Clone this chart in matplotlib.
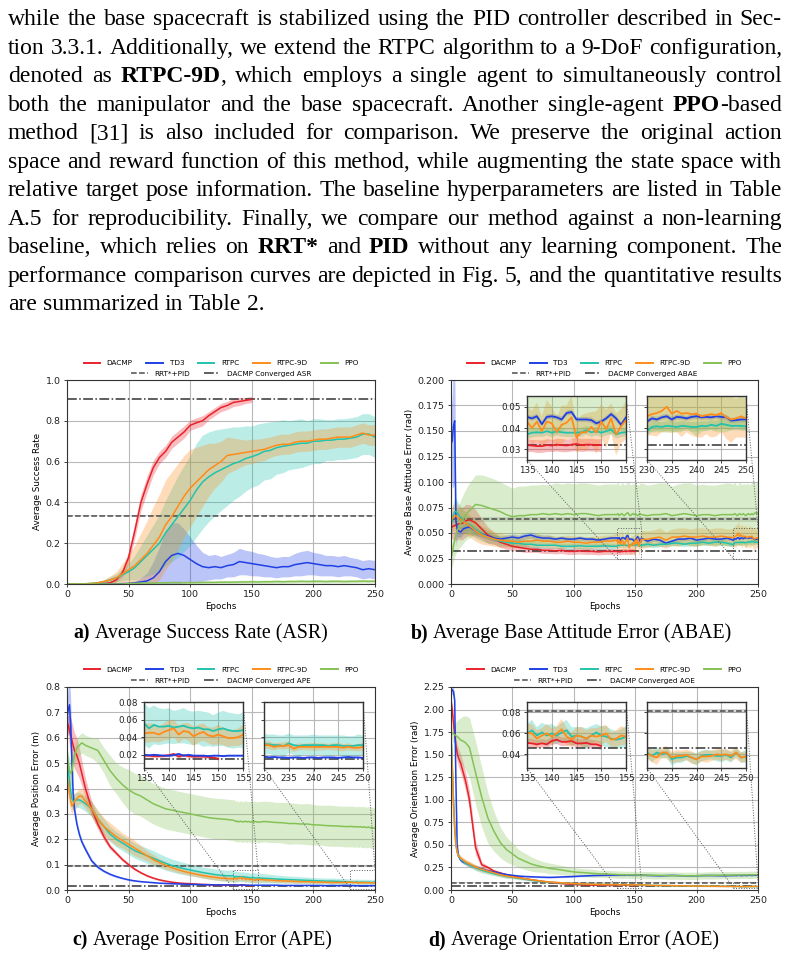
import numpy as np
import matplotlib
matplotlib.use("Agg")
import matplotlib.pyplot as plt
from matplotlib.lines import Line2D
from mpl_toolkits.axes_grid1.inset_locator import mark_inset

W, H = 790, 956

# ---------------- data ----------------
methods = ["DACMP", "TD3", "RTPC", "RTPC-9D", "PPO"]
colors = ["#e8212b", "#2040e6", "#22c3ad", "#ff8c1a", "#84c256"]

# Panel a: epochs every 5
ep_a = list(range(0, 251, 5))
a_dacmp = [0, 0, 0, 0, 0, 0.001, 0.002, 0.006, 0.02, 0.055, 0.13, 0.26, 0.40, 0.49, 0.57, 0.62, 0.65, 0.695,
           0.72, 0.745, 0.778, 0.79, 0.80, 0.825, 0.845, 0.865, 0.875, 0.89, 0.895, 0.90, 0.905]
a_dacmp_sd = [0, 0, 0, 0, 0, 0.001, 0.002, 0.005, 0.01, 0.02, 0.03, 0.035, 0.04, 0.04, 0.035, 0.03, 0.03, 0.03,
              0.03, 0.03, 0.025, 0.025, 0.025, 0.02, 0.02, 0.02, 0.02, 0.02, 0.02, 0.015, 0.015]
a_td3 = [0, 0, 0, 0, 0, 0, 0, 0, 0.001, 0.002, 0.003, 0.005, 0.01, 0.015, 0.03, 0.06, 0.11, 0.14, 0.15, 0.14,
         0.12, 0.10, 0.085, 0.08, 0.085, 0.08, 0.09, 0.095, 0.11, 0.105, 0.10, 0.095, 0.09, 0.085, 0.08, 0.085,
         0.085, 0.095, 0.10, 0.105, 0.10, 0.095, 0.09, 0.09, 0.085, 0.09, 0.085, 0.08, 0.07, 0.075, 0.07]
a_td3_sd = [0, 0, 0, 0, 0, 0, 0, 0, 0.001, 0.002, 0.005, 0.01, 0.02, 0.04, 0.08, 0.12, 0.15, 0.16, 0.15, 0.13,
            0.11, 0.09, 0.07, 0.06, 0.06, 0.055, 0.055, 0.06, 0.065, 0.06, 0.06, 0.055, 0.055, 0.05, 0.05, 0.05,
            0.05, 0.055, 0.06, 0.06, 0.055, 0.055, 0.05, 0.05, 0.05, 0.05, 0.045, 0.045, 0.045, 0.045, 0.045]
a_rtpc = [0, 0, 0, 0.001, 0.003, 0.006, 0.01, 0.02, 0.03, 0.045, 0.06, 0.08, 0.11, 0.14, 0.17, 0.20, 0.25, 0.29,
          0.33, 0.37, 0.41, 0.46, 0.50, 0.525, 0.545, 0.56, 0.575, 0.59, 0.60, 0.615, 0.624, 0.635, 0.65, 0.655,
          0.668, 0.675, 0.68, 0.685, 0.69, 0.69, 0.70, 0.70, 0.705, 0.705, 0.71, 0.71, 0.715, 0.72, 0.735, 0.735, 0.72]
a_rtpc_sd = [0, 0, 0, 0.001, 0.003, 0.006, 0.01, 0.015, 0.02, 0.03, 0.04, 0.06, 0.08, 0.10, 0.12, 0.14, 0.16, 0.18,
             0.20, 0.21, 0.22, 0.23, 0.23, 0.22, 0.21, 0.20, 0.19, 0.18, 0.17, 0.16, 0.15, 0.15, 0.14, 0.14, 0.13,
             0.13, 0.12, 0.12, 0.12, 0.11, 0.11, 0.11, 0.10, 0.10, 0.10, 0.10, 0.10, 0.10, 0.10, 0.10, 0.10]
a_rtpc9d = [0, 0, 0, 0.001, 0.003, 0.006, 0.012, 0.02, 0.03, 0.05, 0.07, 0.09, 0.12, 0.15, 0.19, 0.23, 0.29, 0.33,
            0.38, 0.43, 0.47, 0.50, 0.53, 0.56, 0.58, 0.60, 0.63, 0.635, 0.64, 0.645, 0.65, 0.655, 0.66, 0.67,
            0.68, 0.685, 0.685, 0.695, 0.70, 0.70, 0.705, 0.71, 0.71, 0.715, 0.72, 0.72, 0.72, 0.73, 0.74, 0.73, 0.73]
a_rtpc9d_sd = [0, 0, 0, 0.001, 0.003, 0.006, 0.01, 0.02, 0.03, 0.05, 0.07, 0.10, 0.13, 0.16, 0.19, 0.21, 0.22,
               0.22, 0.21, 0.20, 0.19, 0.17, 0.15, 0.13, 0.11, 0.10, 0.09, 0.08, 0.07, 0.06, 0.06, 0.055, 0.055,
               0.05, 0.05, 0.05, 0.05, 0.05, 0.05, 0.05, 0.05, 0.05, 0.05, 0.05, 0.05, 0.05, 0.05, 0.05, 0.05, 0.05, 0.05]
a_ppo = [0, 0, 0, 0, 0, 0, 0, 0, 0, 0, 0.002, 0.003, 0.004, 0.005, 0.005, 0.006, 0.006, 0.007, 0.007, 0.006,
         0.007, 0.007, 0.008, 0.008, 0.008, 0.009, 0.009, 0.009, 0.010, 0.010, 0.011, 0.010, 0.011, 0.011, 0.012,
         0.011, 0.012, 0.012, 0.013, 0.012, 0.013, 0.013, 0.012, 0.013, 0.013, 0.012, 0.013, 0.013, 0.014, 0.013, 0.014]
a_ppo_sd = [0, 0, 0, 0, 0, 0, 0, 0, 0, 0, 0.002, 0.003, 0.004, 0.004, 0.005, 0.005, 0.005, 0.006, 0.006, 0.006,
            0.006, 0.006, 0.007, 0.007, 0.007, 0.007, 0.007, 0.007, 0.008, 0.008, 0.008, 0.008, 0.008, 0.008, 0.008,
            0.008, 0.008, 0.008, 0.008, 0.008, 0.008, 0.008, 0.008, 0.008, 0.008, 0.008, 0.008, 0.008, 0.008, 0.008, 0.008]

# Panels b-d: dense sampling around inset windows
ep_d = ([0, 1, 2, 3, 4, 5, 6, 8, 10, 12] + list(range(15, 131, 5)) + list(range(135, 156))
        + list(range(160, 226, 5)) + list(range(230, 251)))

# ---- b: ABAE ----
b_dacmp = [0.055, 0.056, 0.057, 0.057, 0.058, 0.058, 0.059, 0.059, 0.060, 0.062,
           0.063, 0.060, 0.054, 0.048, 0.045, 0.041, 0.039, 0.037, 0.036, 0.035, 0.034, 0.034, 0.033, 0.033,
           0.0325, 0.033, 0.032, 0.032, 0.0325, 0.032, 0.032, 0.0315, 0.032, 0.032,
           0.032, 0.0318, 0.0315, 0.0315, 0.032, 0.0318, 0.0322, 0.032, 0.0318, 0.0322, 0.0325, 0.032, 0.0322,
           0.0322, 0.032, 0.032]
b_dacmp_sd = [0.010, 0.012, 0.013, 0.014, 0.015, 0.015, 0.015, 0.016, 0.016, 0.016,
              0.015, 0.013, 0.010, 0.008, 0.006, 0.005, 0.005, 0.004, 0.004, 0.004, 0.003, 0.003, 0.003, 0.003,
              0.003, 0.003, 0.003, 0.003, 0.003, 0.003, 0.003, 0.003, 0.003, 0.003,
              0.003, 0.0028, 0.003, 0.0029, 0.003, 0.0028, 0.003, 0.0031, 0.0029, 0.003, 0.0031, 0.003, 0.0029,
              0.003, 0.0029, 0.003]
b_td3 = [0.138, 0.140, 0.155, 0.160, 0.062, 0.054, 0.052, 0.051, 0.054, 0.055,
         0.056, 0.052, 0.049, 0.047, 0.045, 0.044, 0.045, 0.046, 0.045, 0.047, 0.048, 0.046, 0.045, 0.045, 0.044,
         0.045, 0.044, 0.044, 0.045, 0.044, 0.044, 0.043, 0.044, 0.045,
         0.0452, 0.0445, 0.0455, 0.0418, 0.0452, 0.0455, 0.045, 0.044, 0.047, 0.0475, 0.044, 0.044, 0.044,
         0.0437, 0.0422, 0.043, 0.0445, 0.0465, 0.0445, 0.0415, 0.045,
         0.042, 0.044, 0.043, 0.040, 0.042, 0.044, 0.044, 0.045, 0.043, 0.044, 0.045, 0.044, 0.044, 0.045,
         0.043, 0.0445, 0.044, 0.045, 0.0455, 0.044, 0.0452, 0.045, 0.0445, 0.0452, 0.0455, 0.045, 0.0452,
         0.045, 0.0455, 0.0452, 0.045, 0.0435, 0.0437, 0.044, 0.044]
b_td3_sd = [0.030, 0.045, 0.060, 0.060, 0.025, 0.008, 0.006, 0.005, 0.005, 0.005,
            0.004, 0.004, 0.003, 0.003, 0.003, 0.003, 0.003, 0.003, 0.003, 0.003, 0.003, 0.003, 0.003, 0.003,
            0.002, 0.002, 0.002, 0.002, 0.002, 0.002, 0.002, 0.002, 0.002, 0.002,
            0.0012, 0.0011, 0.0013, 0.0012, 0.0012, 0.0011, 0.0012, 0.0013, 0.0012, 0.0012, 0.0011, 0.0012,
            0.0012, 0.0013, 0.0012, 0.0011, 0.0012, 0.0012, 0.0013, 0.0012, 0.0012,
            0.002, 0.002, 0.0018, 0.002, 0.0019, 0.002, 0.0018, 0.002, 0.002, 0.0019, 0.002, 0.0018, 0.002, 0.0019,
            0.0012, 0.0013, 0.0012, 0.0011, 0.0012, 0.0013, 0.0012, 0.0012, 0.0011, 0.0012, 0.0013, 0.0012,
            0.0012, 0.0011, 0.0012, 0.0013, 0.0012, 0.0012, 0.0011, 0.0012, 0.0012]
b_rtpc = [0.058, 0.062, 0.068, 0.071, 0.071, 0.070, 0.068, 0.065, 0.062, 0.060,
          0.058, 0.053, 0.049, 0.046, 0.044, 0.042, 0.041, 0.040, 0.040, 0.039, 0.039, 0.038, 0.038, 0.038,
          0.038, 0.037, 0.037, 0.037, 0.0375, 0.037, 0.037, 0.037, 0.0375, 0.037,
          0.037, 0.0378, 0.038, 0.0378, 0.0385, 0.0378, 0.0385, 0.038, 0.0378, 0.0378, 0.0378, 0.038, 0.039,
          0.038, 0.0385, 0.0378, 0.0385, 0.0393, 0.037, 0.0378, 0.038,
          0.039, 0.038, 0.039, 0.039, 0.040, 0.040, 0.039, 0.040, 0.040, 0.041, 0.040, 0.041, 0.041, 0.040,
          0.0385, 0.0405, 0.0408, 0.0405, 0.041, 0.0408, 0.0405, 0.041, 0.0408, 0.0405, 0.0405, 0.041, 0.0408,
          0.0415, 0.041, 0.042, 0.0415, 0.041, 0.041, 0.041, 0.0408]
b_rtpc_sd = [0.010, 0.012, 0.012, 0.013, 0.013, 0.012, 0.012, 0.011, 0.010, 0.010,
             0.009, 0.008, 0.007, 0.006, 0.005, 0.005, 0.004, 0.004, 0.004, 0.004, 0.004, 0.004, 0.003, 0.003,
             0.003, 0.003, 0.003, 0.003, 0.003, 0.003, 0.003, 0.003, 0.003, 0.003,
             0.002, 0.0022, 0.002, 0.0021, 0.002, 0.0022, 0.002, 0.0021, 0.002, 0.0022, 0.002, 0.0021, 0.002,
             0.0022, 0.002, 0.0021, 0.002, 0.0022, 0.002, 0.0021, 0.002,
             0.0025, 0.0025, 0.0024, 0.0025, 0.0026, 0.0025, 0.0024, 0.0025, 0.0025, 0.0026, 0.0025, 0.0024,
             0.0025, 0.0025,
             0.0022, 0.0023, 0.0022, 0.0021, 0.0022, 0.0023, 0.0022, 0.0022, 0.0021, 0.0022, 0.0023, 0.0022,
             0.0022, 0.0021, 0.0022, 0.0023, 0.0022, 0.0022, 0.0021, 0.0022, 0.0022]
b_rtpc9d = [0.062, 0.064, 0.066, 0.067, 0.067, 0.066, 0.065, 0.063, 0.061, 0.060,
            0.057, 0.052, 0.048, 0.046, 0.044, 0.043, 0.042, 0.042, 0.041, 0.042, 0.042, 0.043, 0.042, 0.042,
            0.041, 0.041, 0.042, 0.041, 0.041, 0.040, 0.041, 0.041, 0.042, 0.042,
            0.043, 0.040, 0.043, 0.0385, 0.043, 0.0422, 0.038, 0.0415, 0.0425, 0.045, 0.0355, 0.038, 0.038,
            0.0405, 0.0378, 0.043, 0.0395, 0.0445, 0.037, 0.0408, 0.0437,
            0.044, 0.045, 0.046, 0.043, 0.046, 0.046, 0.047, 0.046, 0.046, 0.047, 0.046, 0.046, 0.047, 0.046,
            0.0455, 0.0465, 0.047, 0.048, 0.050, 0.0467, 0.048, 0.0467, 0.047, 0.0465, 0.0467, 0.0455, 0.046,
            0.0465, 0.046, 0.047, 0.045, 0.044, 0.0445, 0.0455, 0.0445]
b_rtpc9d_sd = [0.012, 0.012, 0.013, 0.013, 0.013, 0.013, 0.012, 0.012, 0.012, 0.011,
               0.011, 0.010, 0.009, 0.008, 0.007, 0.007, 0.006, 0.006, 0.006, 0.006, 0.006, 0.006, 0.006, 0.006,
               0.006, 0.006, 0.006, 0.006, 0.006, 0.006, 0.006, 0.006, 0.006, 0.006,
               0.007, 0.008, 0.009, 0.007, 0.010, 0.008, 0.007, 0.009, 0.008, 0.010, 0.007, 0.008, 0.009, 0.007,
               0.010, 0.008, 0.009, 0.007, 0.010, 0.008, 0.009,
               0.008, 0.008, 0.009, 0.008, 0.008, 0.009, 0.008, 0.008, 0.009, 0.008, 0.008, 0.009, 0.008, 0.008,
               0.009, 0.010, 0.011, 0.010, 0.012, 0.009, 0.010, 0.011, 0.009, 0.010, 0.011, 0.010, 0.009, 0.011,
               0.010, 0.009, 0.010, 0.011, 0.009, 0.010, 0.009]
b_ppo = [0.025, 0.030, 0.037, 0.043, 0.048, 0.052, 0.055, 0.060, 0.064, 0.068,
         0.072, 0.078, 0.077, 0.075, 0.073, 0.071, 0.068, 0.066, 0.067, 0.067, 0.068, 0.068, 0.069, 0.068,
         0.069, 0.068, 0.069, 0.068, 0.069, 0.069, 0.068, 0.067, 0.068, 0.068,
         0.068, 0.069, 0.067, 0.068, 0.069, 0.068, 0.067, 0.068, 0.069, 0.070, 0.068, 0.067, 0.068, 0.069,
         0.068, 0.069, 0.068, 0.067, 0.068, 0.069, 0.068,
         0.067, 0.068, 0.068, 0.069, 0.067, 0.068, 0.069, 0.068, 0.067, 0.068, 0.068, 0.067, 0.068, 0.068,
         0.068, 0.069, 0.068, 0.067, 0.068, 0.069, 0.068, 0.068, 0.069, 0.068, 0.067, 0.068, 0.069, 0.068,
         0.068, 0.069, 0.068, 0.069, 0.070, 0.069, 0.070]
b_ppo_sd = [0.010, 0.012, 0.014, 0.016, 0.018, 0.020, 0.021, 0.023, 0.024, 0.025,
            0.027, 0.029, 0.030, 0.030, 0.030, 0.029, 0.029, 0.028, 0.029, 0.029, 0.029, 0.029, 0.029, 0.029,
            0.030, 0.030, 0.030, 0.030, 0.030, 0.030, 0.030, 0.030, 0.030, 0.030,
            0.030, 0.031, 0.030, 0.029, 0.030, 0.031, 0.030, 0.030, 0.029, 0.030, 0.031, 0.030, 0.030, 0.029,
            0.030, 0.031, 0.030, 0.030, 0.029, 0.030, 0.031,
            0.030, 0.030, 0.031, 0.030, 0.029, 0.030, 0.030, 0.031, 0.030, 0.030, 0.029, 0.030, 0.030, 0.031,
            0.030, 0.031, 0.030, 0.029, 0.030, 0.031, 0.030, 0.030, 0.029, 0.030, 0.031, 0.030, 0.030, 0.029,
            0.030, 0.031, 0.030, 0.030, 0.029, 0.030, 0.031]

# ---- c: APE ----
c_dacmp = [0.66, 0.65, 0.63, 0.61, 0.59, 0.57, 0.55, 0.53, 0.50, 0.46,
           0.40, 0.32, 0.26, 0.21, 0.17, 0.145, 0.12, 0.10, 0.082, 0.068, 0.056, 0.047, 0.040, 0.035, 0.031,
           0.028, 0.026, 0.025, 0.023, 0.022, 0.021, 0.020, 0.0195, 0.019,
           0.019, 0.019, 0.0185, 0.0185, 0.019, 0.0195, 0.021, 0.018, 0.0195, 0.0185, 0.018, 0.018, 0.018,
           0.0175, 0.017, 0.0155]
c_dacmp_sd = [0.02, 0.04, 0.06, 0.07, 0.07, 0.07, 0.07, 0.07, 0.06, 0.05,
              0.04, 0.03, 0.02, 0.015, 0.010, 0.008, 0.007, 0.006, 0.005, 0.004, 0.004, 0.003, 0.003, 0.003,
              0.002, 0.002, 0.002, 0.002, 0.002, 0.002, 0.002, 0.002, 0.002, 0.002,
              0.0015, 0.0014, 0.0015, 0.0016, 0.0015, 0.0014, 0.0016, 0.0015, 0.0014, 0.0015, 0.0016, 0.0015,
              0.0014, 0.0015, 0.0015, 0.0014]
c_td3 = [0.68, 0.71, 0.73, 0.65, 0.50, 0.38, 0.32, 0.26, 0.22, 0.19,
         0.16, 0.115, 0.090, 0.074, 0.062, 0.053, 0.046, 0.040, 0.036, 0.033, 0.031, 0.029, 0.027, 0.026,
         0.025, 0.024, 0.023, 0.022, 0.022, 0.021, 0.021, 0.020, 0.020, 0.020,
         0.020, 0.0195, 0.020, 0.0195, 0.019, 0.019, 0.0195, 0.021, 0.019, 0.020, 0.019, 0.019, 0.019,
         0.0185, 0.019, 0.019, 0.0185, 0.019, 0.019, 0.019, 0.019,
         0.019, 0.019, 0.019, 0.018, 0.018, 0.018, 0.018, 0.018, 0.018, 0.018, 0.017, 0.018, 0.017, 0.018,
         0.018, 0.017, 0.0175, 0.017, 0.017, 0.0165, 0.017, 0.017, 0.0165, 0.017, 0.017, 0.0165, 0.017,
         0.017, 0.017, 0.0165, 0.017, 0.0175, 0.017, 0.017, 0.0165]
c_td3_sd = [0.05, 0.10, 0.12, 0.10, 0.06, 0.03, 0.02, 0.015, 0.012, 0.010,
            0.010, 0.008, 0.006, 0.005, 0.004, 0.004, 0.003, 0.003, 0.003, 0.002, 0.002, 0.002, 0.002, 0.002,
            0.002, 0.002, 0.002, 0.002, 0.002, 0.002, 0.002, 0.002, 0.002, 0.002,
            0.001, 0.0011, 0.001, 0.0009, 0.001, 0.0011, 0.001, 0.0012, 0.001, 0.0009, 0.001, 0.0011, 0.001,
            0.001, 0.0009, 0.001, 0.0011, 0.001, 0.001, 0.0009, 0.001,
            0.001, 0.001, 0.0011, 0.001, 0.0009, 0.001, 0.001, 0.0011, 0.001, 0.0009, 0.001, 0.001, 0.0011, 0.001,
            0.001, 0.0011, 0.001, 0.0009, 0.001, 0.0011, 0.001, 0.001, 0.0009, 0.001, 0.0011, 0.001, 0.001,
            0.0009, 0.001, 0.0011, 0.001, 0.001, 0.0009, 0.001, 0.0011]
c_rtpc = [0.55, 0.48, 0.43, 0.39, 0.36, 0.35, 0.35, 0.355, 0.355, 0.35,
          0.34, 0.32, 0.28, 0.25, 0.22, 0.20, 0.185, 0.17, 0.155, 0.145, 0.135, 0.125, 0.115, 0.105, 0.097,
          0.090, 0.084, 0.079, 0.074, 0.069, 0.065, 0.061, 0.058, 0.056,
          0.056, 0.050, 0.054, 0.052, 0.052, 0.053, 0.051, 0.052, 0.053, 0.051, 0.050, 0.051, 0.049, 0.049,
          0.047, 0.049, 0.050, 0.048, 0.047, 0.047, 0.048,
          0.046, 0.045, 0.043, 0.042, 0.041, 0.040, 0.039, 0.038, 0.037, 0.036, 0.035, 0.035, 0.034, 0.033,
          0.032, 0.032, 0.031, 0.031, 0.030, 0.033, 0.031, 0.030, 0.031, 0.031, 0.031, 0.031, 0.031, 0.030,
          0.031, 0.031, 0.030, 0.030, 0.030, 0.031, 0.031]
c_rtpc_sd = [0.02, 0.04, 0.05, 0.05, 0.04, 0.035, 0.03, 0.03, 0.03, 0.03,
             0.03, 0.03, 0.03, 0.03, 0.03, 0.03, 0.03, 0.03, 0.03, 0.03, 0.03, 0.03, 0.028, 0.027, 0.026,
             0.025, 0.024, 0.023, 0.022, 0.022, 0.022, 0.022, 0.022, 0.022,
             0.024, 0.023, 0.022, 0.021, 0.020, 0.020, 0.019, 0.019, 0.020, 0.019, 0.019, 0.019, 0.020, 0.019,
             0.018, 0.019, 0.020, 0.020, 0.020, 0.019, 0.020,
             0.018, 0.017, 0.016, 0.015, 0.014, 0.014, 0.013, 0.013, 0.012, 0.012, 0.012, 0.012, 0.012, 0.012,
             0.012, 0.011, 0.012, 0.011, 0.012, 0.011, 0.011, 0.012, 0.011, 0.011, 0.012, 0.011, 0.011, 0.012,
             0.011, 0.011, 0.012, 0.011, 0.011, 0.012, 0.011]
c_rtpc9d = [0.45, 0.42, 0.38, 0.35, 0.33, 0.34, 0.35, 0.36, 0.37, 0.37,
            0.35, 0.32, 0.28, 0.25, 0.23, 0.21, 0.195, 0.18, 0.165, 0.15, 0.135, 0.12, 0.108, 0.097, 0.088,
            0.080, 0.073, 0.067, 0.062, 0.057, 0.053, 0.050, 0.047, 0.045,
            0.0443, 0.045, 0.045, 0.043, 0.046, 0.048, 0.050, 0.043, 0.047, 0.046, 0.041, 0.044, 0.046, 0.042,
            0.041, 0.043, 0.041, 0.039, 0.039, 0.040, 0.043,
            0.040, 0.039, 0.037, 0.036, 0.035, 0.034, 0.033, 0.033, 0.032, 0.031, 0.031, 0.030, 0.030, 0.030,
            0.031, 0.031, 0.029, 0.030, 0.030, 0.031, 0.027, 0.029, 0.029, 0.029, 0.029, 0.029, 0.029, 0.029,
            0.029, 0.029, 0.028, 0.029, 0.028, 0.028, 0.029]
c_rtpc9d_sd = [0.05, 0.05, 0.05, 0.04, 0.03, 0.03, 0.03, 0.03, 0.03, 0.03,
               0.03, 0.03, 0.035, 0.035, 0.035, 0.035, 0.03, 0.03, 0.03, 0.025, 0.02, 0.02, 0.015, 0.015, 0.012,
               0.012, 0.010, 0.010, 0.010, 0.010, 0.010, 0.010, 0.010, 0.010,
               0.010, 0.011, 0.010, 0.009, 0.010, 0.011, 0.010, 0.010, 0.009, 0.010, 0.011, 0.010, 0.010, 0.009,
               0.010, 0.011, 0.010, 0.010, 0.009, 0.010, 0.011,
               0.008, 0.008, 0.007, 0.007, 0.007, 0.007, 0.006, 0.006, 0.006, 0.005, 0.005, 0.005, 0.005, 0.005,
               0.004, 0.0045, 0.004, 0.0035, 0.004, 0.0045, 0.004, 0.004, 0.0035, 0.004, 0.0045, 0.004, 0.004,
               0.0035, 0.004, 0.0045, 0.004, 0.004, 0.0035, 0.004, 0.0045]
c_ppo = [0.52, 0.50, 0.47, 0.46, 0.47, 0.50, 0.53, 0.56, 0.57, 0.58,
         0.57, 0.56, 0.55, 0.51, 0.47, 0.44, 0.415, 0.395, 0.38, 0.37, 0.355, 0.34, 0.33, 0.32, 0.315, 0.31,
         0.305, 0.30, 0.295, 0.29, 0.285, 0.282, 0.28, 0.278,
         0.275, 0.273, 0.270, 0.272, 0.268, 0.270, 0.271, 0.269, 0.268, 0.270, 0.271, 0.268, 0.270, 0.269,
         0.267, 0.270, 0.268, 0.269, 0.270, 0.268, 0.267,
         0.270, 0.268, 0.266, 0.265, 0.262, 0.262, 0.260, 0.260, 0.257, 0.256, 0.254, 0.253, 0.252, 0.250,
         0.250, 0.251, 0.249, 0.250, 0.248, 0.250, 0.249, 0.248, 0.250, 0.248, 0.247, 0.249, 0.248, 0.246,
         0.247, 0.248, 0.246, 0.245, 0.246, 0.244, 0.243]
c_ppo_sd = [0.03, 0.04, 0.05, 0.05, 0.05, 0.05, 0.04, 0.04, 0.04, 0.04,
            0.04, 0.04, 0.05, 0.05, 0.06, 0.06, 0.07, 0.08, 0.08, 0.08, 0.08, 0.08, 0.08, 0.08, 0.08, 0.08,
            0.08, 0.08, 0.08, 0.08, 0.08, 0.08, 0.08, 0.08,
            0.080, 0.082, 0.079, 0.081, 0.080, 0.078, 0.082, 0.080, 0.079, 0.081, 0.080, 0.082, 0.079, 0.080,
            0.081, 0.080, 0.078, 0.082, 0.080, 0.079, 0.081,
            0.080, 0.081, 0.079, 0.080, 0.082, 0.080, 0.079, 0.081, 0.080, 0.078, 0.080, 0.081, 0.079, 0.080,
            0.080, 0.082, 0.079, 0.081, 0.080, 0.078, 0.082, 0.080, 0.079, 0.081, 0.080, 0.082, 0.079, 0.080,
            0.081, 0.080, 0.078, 0.082, 0.080, 0.079, 0.081]

# ---- d: AOE ----
d_dacmp = [2.10, 2.00, 1.85, 1.72, 1.60, 1.52, 1.47, 1.40, 1.30, 1.20,
           1.00, 0.47, 0.28, 0.25, 0.21, 0.19, 0.17, 0.155, 0.14, 0.125, 0.115, 0.105, 0.095, 0.085, 0.078,
           0.072, 0.067, 0.062, 0.059, 0.057, 0.055, 0.053, 0.052, 0.051,
           0.051, 0.0505, 0.0496, 0.0505, 0.0496, 0.0528, 0.054, 0.052, 0.052, 0.0528, 0.0505, 0.0505, 0.051,
           0.0496, 0.0496, 0.048]
d_dacmp_sd = [0.04, 0.06, 0.08, 0.10, 0.10, 0.10, 0.10, 0.10, 0.10, 0.10,
              0.10, 0.08, 0.03, 0.02, 0.015, 0.012, 0.010, 0.010, 0.010, 0.008, 0.008, 0.007, 0.006, 0.006,
              0.005, 0.005, 0.005, 0.005, 0.004, 0.004, 0.004, 0.004, 0.004, 0.004,
              0.004, 0.0042, 0.0038, 0.004, 0.0041, 0.0039, 0.004, 0.0042, 0.0038, 0.004, 0.0041, 0.0039,
              0.004, 0.0042, 0.0038, 0.004]
d_td3 = [2.20, 2.22, 2.20, 2.10, 1.20, 0.50, 0.38, 0.33, 0.31, 0.30,
         0.28, 0.255, 0.235, 0.215, 0.20, 0.185, 0.172, 0.163, 0.155, 0.15, 0.147, 0.144, 0.142, 0.14, 0.142,
         0.145, 0.147, 0.15, 0.154, 0.157, 0.16, 0.162, 0.163, 0.164,
         0.165, 0.163, 0.166, 0.164, 0.165, 0.166, 0.164, 0.165, 0.167, 0.165, 0.164, 0.166, 0.165, 0.163,
         0.165, 0.166, 0.165, 0.164, 0.165, 0.166, 0.165,
         0.162, 0.160, 0.158, 0.160, 0.162, 0.160, 0.158, 0.157, 0.158, 0.160, 0.161, 0.160, 0.159, 0.160,
         0.161, 0.162, 0.160, 0.161, 0.163, 0.162, 0.161, 0.160, 0.162, 0.163, 0.162, 0.161, 0.163, 0.164,
         0.163, 0.162, 0.164, 0.165, 0.164, 0.165, 0.165]
d_td3_sd = [0.03, 0.05, 0.05, 0.06, 0.10, 0.06, 0.03, 0.02, 0.02, 0.02,
            0.02, 0.015, 0.012, 0.010, 0.010, 0.010, 0.010, 0.008, 0.008, 0.008, 0.008, 0.008, 0.008, 0.008,
            0.008, 0.008, 0.008, 0.008, 0.008, 0.008, 0.008, 0.008, 0.008, 0.008,
            0.008, 0.009, 0.008, 0.007, 0.008, 0.009, 0.008, 0.008, 0.007, 0.008, 0.009, 0.008, 0.008, 0.007,
            0.008, 0.009, 0.008, 0.008, 0.007, 0.008, 0.009,
            0.008, 0.008, 0.009, 0.008, 0.007, 0.008, 0.008, 0.009, 0.008, 0.007, 0.008, 0.008, 0.009, 0.008,
            0.008, 0.009, 0.008, 0.007, 0.008, 0.009, 0.008, 0.008, 0.007, 0.008, 0.009, 0.008, 0.008, 0.007,
            0.008, 0.009, 0.008, 0.008, 0.007, 0.008, 0.009]
d_rtpc = [1.75, 1.40, 1.00, 0.70, 0.50, 0.42, 0.38, 0.34, 0.32, 0.30,
          0.28, 0.245, 0.22, 0.20, 0.18, 0.165, 0.15, 0.14, 0.13, 0.12, 0.11, 0.10, 0.093, 0.087, 0.082,
          0.078, 0.074, 0.071, 0.068, 0.066, 0.064, 0.062, 0.061, 0.060,
          0.060, 0.063, 0.058, 0.061, 0.058, 0.060, 0.058, 0.061, 0.063, 0.057, 0.058, 0.057, 0.055, 0.058,
          0.061, 0.058, 0.057, 0.055, 0.054, 0.055, 0.057,
          0.053, 0.051, 0.050, 0.049, 0.048, 0.047, 0.046, 0.045, 0.044, 0.044, 0.043, 0.042, 0.042, 0.041,
          0.0418, 0.0385, 0.0418, 0.040, 0.0418, 0.0353, 0.037, 0.037, 0.0385, 0.037, 0.0353, 0.0385, 0.0395,
          0.0395, 0.0385, 0.0385, 0.0395, 0.037, 0.0418, 0.037, 0.038]
d_rtpc_sd = [0.05, 0.08, 0.10, 0.08, 0.05, 0.04, 0.03, 0.03, 0.03, 0.03,
             0.03, 0.03, 0.03, 0.025, 0.02, 0.02, 0.02, 0.015, 0.015, 0.012, 0.012, 0.010, 0.010, 0.010, 0.010,
             0.010, 0.009, 0.009, 0.009, 0.009, 0.009, 0.009, 0.009, 0.009,
             0.009, 0.010, 0.008, 0.009, 0.010, 0.009, 0.008, 0.009, 0.010, 0.009, 0.008, 0.009, 0.010, 0.009,
             0.008, 0.009, 0.010, 0.009, 0.008, 0.009, 0.010,
             0.007, 0.007, 0.007, 0.007, 0.007, 0.007, 0.007, 0.006, 0.006, 0.006, 0.006, 0.006, 0.006, 0.006,
             0.005, 0.006, 0.005, 0.004, 0.005, 0.006, 0.005, 0.005, 0.004, 0.005, 0.006, 0.005, 0.005, 0.004,
             0.005, 0.006, 0.005, 0.005, 0.004, 0.005, 0.006]
d_rtpc9d = [1.70, 1.35, 0.95, 0.68, 0.50, 0.42, 0.38, 0.35, 0.33, 0.31,
            0.29, 0.255, 0.23, 0.21, 0.19, 0.17, 0.155, 0.145, 0.135, 0.125, 0.115, 0.105, 0.097, 0.090, 0.085,
            0.080, 0.076, 0.072, 0.069, 0.066, 0.064, 0.062, 0.061, 0.060,
            0.061, 0.060, 0.055, 0.058, 0.060, 0.057, 0.060, 0.064, 0.057, 0.054, 0.058, 0.057, 0.055, 0.058,
            0.057, 0.058, 0.060, 0.054, 0.055, 0.058, 0.057,
            0.053, 0.051, 0.050, 0.049, 0.048, 0.047, 0.046, 0.045, 0.044, 0.043, 0.043, 0.042, 0.041, 0.041,
            0.041, 0.0385, 0.037, 0.0418, 0.0418, 0.037, 0.0385, 0.0385, 0.0395, 0.037, 0.0353, 0.038, 0.038,
            0.0385, 0.040, 0.0395, 0.040, 0.0385, 0.0418, 0.037, 0.038]
d_rtpc9d_sd = [0.05, 0.08, 0.10, 0.08, 0.05, 0.04, 0.03, 0.03, 0.03, 0.03,
               0.03, 0.03, 0.03, 0.025, 0.02, 0.02, 0.02, 0.015, 0.015, 0.012, 0.012, 0.010, 0.010, 0.010, 0.010,
               0.010, 0.009, 0.009, 0.009, 0.009, 0.009, 0.009, 0.009, 0.009,
               0.008, 0.009, 0.008, 0.007, 0.009, 0.008, 0.007, 0.010, 0.008, 0.007, 0.008, 0.009, 0.008, 0.007,
               0.008, 0.009, 0.008, 0.007, 0.008, 0.009, 0.008,
               0.007, 0.007, 0.007, 0.007, 0.007, 0.007, 0.007, 0.006, 0.006, 0.006, 0.006, 0.006, 0.006, 0.006,
               0.005, 0.006, 0.007, 0.005, 0.006, 0.005, 0.006, 0.005, 0.005, 0.006, 0.005, 0.005, 0.006, 0.005,
               0.005, 0.006, 0.005, 0.005, 0.006, 0.005, 0.005]
d_ppo = [1.75, 1.74, 1.73, 1.72, 1.71, 1.70, 1.69, 1.66, 1.65, 1.63,
         1.58, 1.30, 1.03, 0.80, 0.65, 0.53, 0.45, 0.40, 0.35, 0.32, 0.29, 0.27, 0.255, 0.24, 0.232, 0.222,
         0.21, 0.20, 0.195, 0.19, 0.185, 0.18, 0.178, 0.175,
         0.172, 0.170, 0.171, 0.169, 0.170, 0.168, 0.170, 0.169, 0.168, 0.170, 0.167, 0.168, 0.169, 0.167,
         0.166, 0.168, 0.167, 0.166, 0.167, 0.165, 0.166,
         0.165, 0.163, 0.162, 0.160, 0.160, 0.158, 0.158, 0.157, 0.158, 0.160, 0.162, 0.163, 0.164, 0.165,
         0.165, 0.166, 0.165, 0.167, 0.166, 0.165, 0.167, 0.168, 0.166, 0.167, 0.168, 0.167, 0.166, 0.168,
         0.169, 0.167, 0.168, 0.169, 0.170, 0.168, 0.170]
d_ppo_sd = [0.05, 0.08, 0.10, 0.12, 0.15, 0.18, 0.20, 0.25, 0.28, 0.30,
            0.33, 0.35, 0.33, 0.28, 0.22, 0.17, 0.14, 0.12, 0.10, 0.09, 0.08, 0.07, 0.06, 0.06, 0.055, 0.05,
            0.05, 0.05, 0.045, 0.045, 0.045, 0.04, 0.04, 0.04,
            0.040, 0.041, 0.039, 0.040, 0.042, 0.040, 0.039, 0.041, 0.040, 0.038, 0.040, 0.041, 0.039, 0.040,
            0.042, 0.040, 0.039, 0.041, 0.040, 0.038, 0.040,
            0.040, 0.041, 0.039, 0.040, 0.042, 0.040, 0.039, 0.041, 0.040, 0.038, 0.040, 0.041, 0.039, 0.040,
            0.040, 0.041, 0.039, 0.040, 0.042, 0.040, 0.039, 0.041, 0.040, 0.038, 0.040, 0.041, 0.039, 0.040,
            0.042, 0.040, 0.039, 0.041, 0.040, 0.038, 0.040]

# reference levels: (RRT*+PID mean, RRT*+PID spread, DACMP converged)
ref_a = (0.335, 0.003, 0.905)
ref_b = (0.0633, 0.0022, 0.0322)
ref_c = (0.093, 0.003, 0.0153)
ref_d = (0.0815, 0.0022, 0.0460)

paragraph = [
    "while the base spacecraft is stabilized using the PID controller described in Sec-",
    "tion 3.3.1. Additionally, we extend the RTPC algorithm to a 9-DoF configuration,",
    "denoted as §RTPC-9D§, which employs a single agent to simultaneously control",
    "both the manipulator and the base spacecraft. Another single-agent §PPO§-based",
    "method [31] is also included for comparison. We preserve the original action",
    "space and reward function of this method, while augmenting the state space with",
    "relative target pose information. The baseline hyperparameters are listed in Table",
    "A.5 for reproducibility. Finally, we compare our method against a non-learning",
    "baseline, which relies on §RRT*§ and §PID§ without any learning component. The",
    "performance comparison curves are depicted in Fig. 5, and the quantitative results",
    "are summarized in Table 2.",
]
captions = [("a)", "Average Success Rate (ASR)"), ("b)", "Average Base Attitude Error (ABAE)"),
            ("c)", "Average Position Error (APE)"), ("d)", "Average Orientation Error (AOE)")]

# ---------------- figure ----------------
fig = plt.figure(figsize=(W / 100, H / 100), dpi=100)
fig.patch.set_facecolor("white")
renderer = fig.canvas.get_renderer()
SERIF = "Liberation Serif"


def px_to_fig(x, y):
    return x / W, 1 - y / H


def measure(s, fs, weight="normal"):
    t = fig.text(0, 0, s, fontsize=fs, family=SERIF, fontweight=weight)
    w = t.get_window_extent(renderer).width
    t.remove()
    return w


# paragraph (justified)
FS_P = 17.0
X0, X1 = 8, 782
space_w = measure("a a", FS_P) - measure("aa", FS_P)
for i, line in enumerate(paragraph):
    ybase = 25.0 + 28.55 * i
    words = line.split(" ")
    items = []
    for w in words:
        parts = w.split("§")
        texts = []
        for k, p in enumerate(parts):
            if not p:
                continue
            t = fig.text(0, 0, p, fontsize=FS_P, family=SERIF, va="baseline", ha="left",
                         fontweight="bold" if k % 2 else "normal")
            texts.append((t, t.get_window_extent(renderer).width))
        items.append(texts)
    widths = [sum(pw for _, pw in tx) for tx in items]
    last = i == len(paragraph) - 1
    gap = space_w if last else (X1 - X0 - sum(widths)) / (len(words) - 1)
    x = X0
    for tx, wd in zip(items, widths):
        xx = x
        for t, pw in tx:
            t.set_position(px_to_fig(xx, ybase))
            xx += pw
        x += wd + gap

# captions
FS_C = 14.3
cap_pos = [(201, 638), (571, 638), (202, 945), (574, 945)]
for (lab, txt), (xc, yb) in zip(captions, cap_pos):
    wb = measure(lab, FS_C, "bold")
    wt = measure(txt, FS_C)
    sp = measure("a a", FS_C) - measure("aa", FS_C)
    total = wb + sp + wt
    x0 = xc - total / 2
    fig.text(*px_to_fig(x0, yb), lab, fontsize=FS_C, family=SERIF, fontweight="bold", va="baseline")
    fig.text(*px_to_fig(x0 + wb + sp, yb), txt, fontsize=FS_C, family=SERIF, va="baseline")

# axes positions (px): left, top, right, bottom
boxes = [(67, 380, 375, 584), (451, 380, 758, 584), (67, 687, 375, 890), (451, 687, 758, 890)]
axes = []
for (l, t, r, b) in boxes:
    ax = fig.add_axes([l / W, 1 - b / H, (r - l) / W, (b - t) / H])
    axes.append(ax)

TICK_FS = 6.8
LAB_FS = 6.3
LEG_FS = 5.2


def style_axes(ax, fs):
    ax.grid(True, color="#b8b8b8", lw=0.8)
    ax.set_axisbelow(True)
    for s in ax.spines.values():
        s.set_color("#333333")
        s.set_linewidth(0.8)
    ax.tick_params(labelsize=fs, length=2.5, width=0.6, pad=2, colors="#222222")


def draw_all(ax, x, series, lw, clip0=False):
    for (m, s), c in zip(series, colors):
        xx = np.asarray(x[:len(m)], float)
        m = np.asarray(m, float)
        s = np.asarray(s, float)
        lo = m - s
        if clip0:
            lo = np.clip(lo, 0, None)
        ax.fill_between(xx, lo, m + s, color=c, alpha=0.3, lw=0)
        ax.plot(xx, m, color=c, lw=lw)


def draw_refs(ax, ref, lw):
    rrt, rsd, conv = ref
    ax.axhspan(rrt - rsd, rrt + rsd, color="0.5", alpha=0.3, lw=0)
    ax.axhline(rrt, color="0.3", ls="--", lw=lw)
    ax.axhline(conv, color="0.2", ls="-.", lw=lw)


panels = [
    (ep_a, [(a_dacmp, a_dacmp_sd), (a_td3, a_td3_sd), (a_rtpc, a_rtpc_sd), (a_rtpc9d, a_rtpc9d_sd),
            (a_ppo, a_ppo_sd)], ref_a, (0, 1.0), np.arange(0, 1.01, 0.2), "Average Success Rate",
     "DACMP Converged ASR", None),
    (ep_d, [(b_dacmp, b_dacmp_sd), (b_td3, b_td3_sd), (b_rtpc, b_rtpc_sd), (b_rtpc9d, b_rtpc9d_sd),
            (b_ppo, b_ppo_sd)], ref_b, (0, 0.2), np.arange(0, 0.2001, 0.025), "Average Base Attitude Error (rad)",
     "DACMP Converged ABAE", ((0.025, 0.055), [0.03, 0.04, 0.05])),
    (ep_d, [(c_dacmp, c_dacmp_sd), (c_td3, c_td3_sd), (c_rtpc, c_rtpc_sd), (c_rtpc9d, c_rtpc9d_sd),
            (c_ppo, c_ppo_sd)], ref_c, (0, 0.8), np.arange(0, 0.801, 0.1), "Average Position Error (m)",
     "DACMP Converged APE", ((0.005, 0.08), [0.02, 0.04, 0.06, 0.08])),
    (ep_d, [(d_dacmp, d_dacmp_sd), (d_td3, d_td3_sd), (d_rtpc, d_rtpc_sd), (d_rtpc9d, d_rtpc9d_sd),
            (d_ppo, d_ppo_sd)], ref_d, (0, 2.25), np.arange(0, 2.251, 0.25), "Average Orientation Error (rad)",
     "DACMP Converged AOE", ((0.027, 0.09), [0.04, 0.06, 0.08])),
]
inset_x = [(135, 155), (230, 250)]
inset_boxes = {1: [(527, 396, 626, 460), (647, 396, 746, 460)],
               2: [(144, 702, 243, 768), (264, 702, 363, 768)],
               3: [(527, 702, 626, 768), (647, 702, 746, 768)]}

for idx, (ax, (x, series, ref, ylim, yticks, ylabel, conv_label, ins)) in enumerate(zip(axes, panels)):
    style_axes(ax, TICK_FS)
    draw_refs(ax, ref, 1.1)
    draw_all(ax, x, series, 1.1, clip0=(idx == 0))
    ax.set_xlim(0, 250)
    ax.set_ylim(*ylim)
    ax.set_yticks(yticks)
    ax.set_xticks([0, 50, 100, 150, 200, 250])
    ax.set_xlabel("Epochs", fontsize=LAB_FS, labelpad=2)
    ax.set_ylabel(ylabel, fontsize=LAB_FS, labelpad=3)
    l, t, r, b = boxes[idx]
    hpx = b - t
    h1 = [Line2D([], [], color=c, lw=1.4) for c in colors]
    leg1 = ax.legend(h1, methods, loc="center", bbox_to_anchor=(0.5, 1 + 17 / hpx), ncol=5, frameon=False,
                     fontsize=LEG_FS, handlelength=2.3, columnspacing=1.9, handletextpad=0.9, borderaxespad=0,
                     borderpad=0)
    ax.add_artist(leg1)
    h2 = [Line2D([], [], color="0.3", ls="--", lw=1.1), Line2D([], [], color="0.2", ls="-.", lw=1.1)]
    ax.legend(h2, ["RRT*+PID", conv_label], loc="center", bbox_to_anchor=(0.5, 1 + 6.5 / hpx), ncol=2,
              frameon=False, fontsize=LEG_FS, handlelength=2.3, columnspacing=1.9, handletextpad=0.9,
              borderaxespad=0, borderpad=0)
    if ins is not None:
        iylim, iyt = ins
        for j, (bx, xl) in enumerate(zip(inset_boxes[idx], inset_x)):
            il, it, ir, ib = bx
            axi = ax.inset_axes([(il - l) / (r - l), (b - ib) / hpx, (ir - il) / (r - l), (ib - it) / hpx])
            axi.set_facecolor("white")
            style_axes(axi, 6.3)
            for s in axi.spines.values():
                s.set_linewidth(1.0)
                s.set_color("#333333")
            draw_refs(axi, ref, 1.1)
            draw_all(axi, x, series, 1.3)
            axi.set_xlim(*xl)
            axi.set_ylim(*iylim)
            axi.set_xticks(list(range(xl[0], xl[1] + 1, 5)))
            axi.set_yticks(iyt)
            if j == 1:
                axi.set_yticklabels([])
            mark_inset(ax, axi, loc1=3, loc2=1, fc="none", ec="0.35", ls=":", lw=0.7)

fig.savefig("out.png", dpi=100, facecolor="white")
